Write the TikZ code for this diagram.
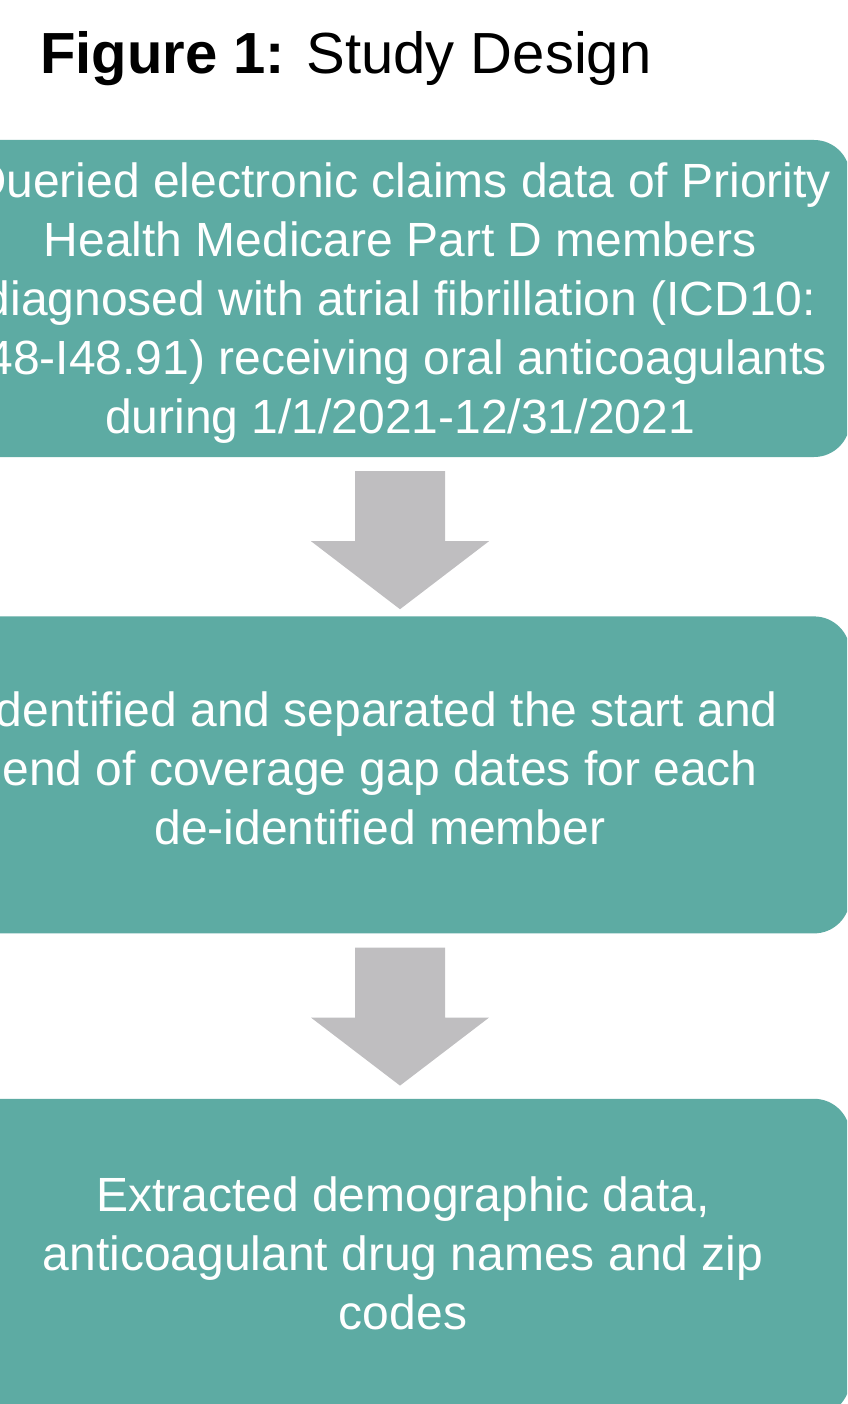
\documentclass[tikz,border=0pt]{standalone}
\usepackage{fontspec}
\setmainfont{Liberation Sans}
\usetikzlibrary{positioning,calc}
\definecolor{boxteal}{HTML}{5DABA3}
\definecolor{arrowgray}{HTML}{BFBEC0}

\begin{document}
\begin{tikzpicture}[x=1pt, y=-1pt,
  stepbox/.style={fill=boxteal, rounded corners=36pt, minimum width=900pt, minimum height=317pt, inner sep=0pt},
  steptext/.style={text=white, align=center, inner sep=0pt, font=\fontsize{48}{59}\selectfont},
  blockarrow/.style={fill=arrowgray}]
  \useasboundingbox (0,0) rectangle (847,1404);
  \clip (0,0) rectangle (847,1404);

  % title
  \node[anchor=base west, inner sep=0pt, font=\fontsize{58}{70}\selectfont] (title) at (40,74) {\textbf{Figure 1:} Study Design};

  % boxes
  \node[stepbox] (box1) at (400,298.5) {};
  \node[stepbox, below=159pt of box1] (box2) {};
  \node[stepbox, below=165pt of box2] (box3) {};

  % box texts
  \node[steptext] (txt1) at ($(box1)+(0,4.5)$) {Queried electronic claims data of Priority\\Health Medicare Part D members\\diagnosed with atrial fibrillation (ICD10:\\I48-I48.91) receiving oral anticoagulants\\during 1/1/2021-12/31/2021};
  \node[steptext] (txt2) at ($(box2)+(-20,-7)$) {Identified and separated the start and\\end of coverage gap dates for each\\de-identified member};
  \node[steptext] (txt3) at ($(box3)+(3,-4)$) {Extracted demographic data,\\anticoagulant drug names and zip\\codes};

  % block arrows between the boxes
  \foreach \a in {box1,box2}
    \fill[blockarrow] ($(\a.south)+(-45,14)$) -- ($(\a.south)+(45,14)$)
      -- ($(\a.south)+(45,84)$) -- ($(\a.south)+(89,84)$)
      -- ($(\a.south)+(0,152)$) -- ($(\a.south)+(-89,84)$)
      -- ($(\a.south)+(-45,84)$) -- cycle;
\end{tikzpicture}
\end{document}
